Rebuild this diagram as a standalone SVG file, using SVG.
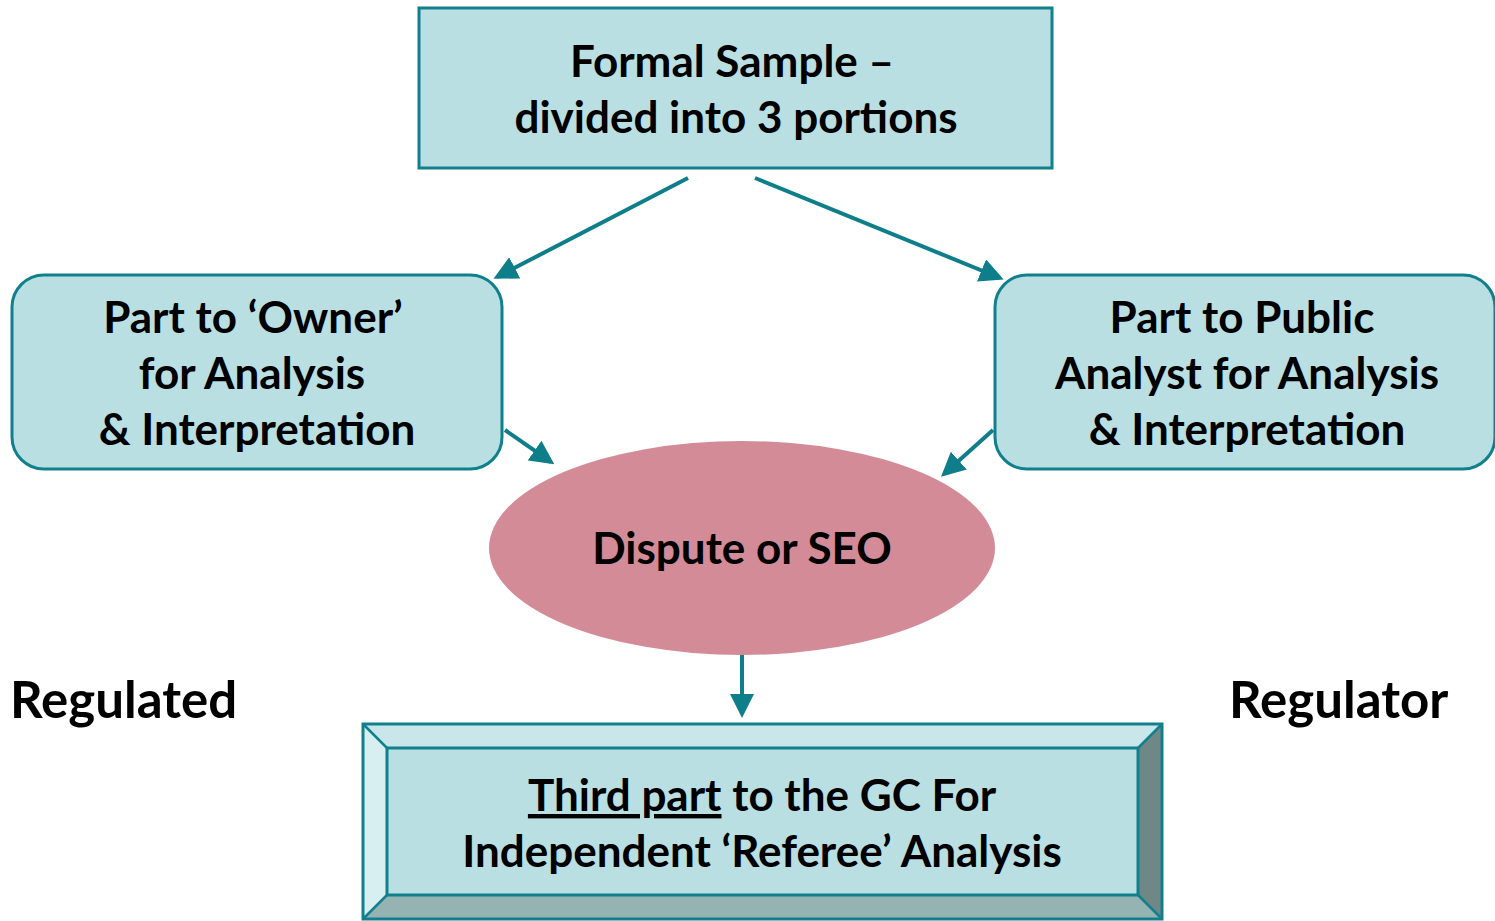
<svg xmlns="http://www.w3.org/2000/svg" width="1495" height="921" viewBox="0 0 1495 921">
  <style>
    .box { fill: #B9DFE3; stroke: #12808C; stroke-width: 3; }
    .lbl { font-family: Lato, "Open Sans", "Liberation Sans", sans-serif; font-weight: bold; font-size: 44px; fill: #000; text-anchor: middle; }
    .side { font-family: Lato, "Open Sans", "Liberation Sans", sans-serif; font-weight: bold; font-size: 51px; fill: #000; }
    .conn { stroke: #0E7E8B; stroke-width: 4; fill: none; marker-end: url(#head); }
  </style>
  <defs>
    <marker id="head" markerWidth="6" markerHeight="6" refX="5" refY="3" orient="auto" markerUnits="strokeWidth">
      <path d="M0,0 L6,3 L0,6 Z" fill="#0E7E8B"/>
    </marker>
  </defs>

  <rect width="1495" height="921" fill="#FFFFFF"/>

  <g id="formal-sample">
    <rect class="box" x="419" y="8" width="633" height="160"/>
    <text class="lbl" x="732" y="77">Formal Sample –</text>
    <text class="lbl" x="736" y="133">divided into 3 portions</text>
  </g>

  <g id="owner-part">
    <rect class="box" x="12" y="275" width="490" height="194" rx="32"/>
    <text class="lbl" x="253" y="333">Part to ‘Owner’</text>
    <text class="lbl" x="252" y="389">for Analysis</text>
    <text class="lbl" x="257" y="445">&amp; Interpretation</text>
  </g>

  <g id="public-analyst-part">
    <rect class="box" x="995" y="275" width="500" height="194" rx="32"/>
    <text class="lbl" x="1242" y="333">Part to Public</text>
    <text class="lbl" x="1247" y="389">Analyst for Analysis</text>
    <text class="lbl" x="1247" y="445">&amp; Interpretation</text>
  </g>

  <g id="dispute">
    <ellipse cx="742" cy="548" rx="253" ry="107" fill="#D38B98"/>
    <text class="lbl" x="742" y="564">Dispute or SEO</text>
  </g>

  <g id="referee-part">
    <!-- bevelled frame: four trapezoid faces around the inner panel -->
    <polygon points="363,724 1162,724 1138,748 387,748" fill="#C9E7EA"/>
    <polygon points="363,724 387,748 387,895 363,919" fill="#D8EFF1"/>
    <polygon points="1162,724 1162,919 1138,895 1138,748" fill="#6F8787"/>
    <polygon points="363,919 387,895 1138,895 1162,919" fill="#96B3B4"/>
    <rect x="387" y="748" width="751" height="147" fill="#B9DFE3" stroke="#12808C" stroke-width="3"/>
    <rect x="363" y="724" width="799" height="195" fill="none" stroke="#12808C" stroke-width="3"/>
    <g stroke="#12808C" stroke-width="2.5">
      <line x1="363" y1="724" x2="387" y2="748"/>
      <line x1="1162" y1="724" x2="1138" y2="748"/>
      <line x1="363" y1="919" x2="387" y2="895"/>
      <line x1="1162" y1="919" x2="1138" y2="895"/>
    </g>
    <text class="lbl" x="762" y="811"><tspan text-decoration="underline">Third part</tspan> to the GC For</text>
    <text class="lbl" x="762" y="867">Independent ‘Referee’ Analysis</text>
  </g>

  <g id="regulated">
    <text class="side" x="10" y="718">Regulated</text>
  </g>
  <g id="regulator">
    <text class="side" x="1229" y="718">Regulator</text>
  </g>

  <g id="connectors">
    <line class="conn" x1="688" y1="178" x2="497" y2="277"/>
    <line class="conn" x1="755" y1="178" x2="1000" y2="278"/>
    <line class="conn" x1="505" y1="430" x2="551" y2="462"/>
    <line class="conn" x1="993" y1="430" x2="944" y2="474"/>
    <line class="conn" x1="742" y1="655" x2="742" y2="714"/>
  </g>
</svg>
